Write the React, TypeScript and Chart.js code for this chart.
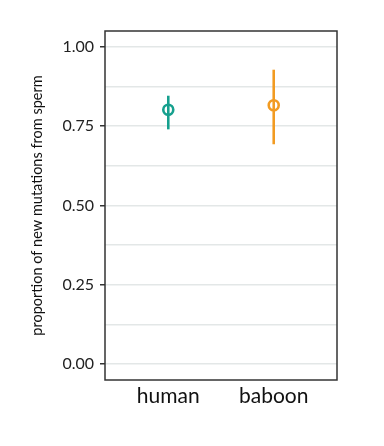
import React, { useEffect, useRef } from "react";
import { Chart, registerables } from "chart.js";

Chart.register(...registerables);

const categories = ["human", "baboon"];
const estimates = [0.802, 0.816];
const lower = [0.740, 0.693];
const upper = [0.846, 0.928];
const colors = ["#16a08e", "#f29b22"];
const yTickValues = [0, 0.25, 0.5, 0.75, 1.0];
const yGridValues = [0, 0.125, 0.25, 0.375, 0.5, 0.625, 0.75, 0.875, 1.0];

const boxPlugin = {
  id: "box",
  afterDraw(chart: any) {
    const { ctx, chartArea } = chart;
    ctx.save();
    ctx.strokeStyle = "#333333";
    ctx.lineWidth = 1.5;
    ctx.strokeRect(chartArea.left, chartArea.top, chartArea.right - chartArea.left, chartArea.bottom - chartArea.top);
    ctx.restore();
  },
};

export default function App() {
  const ref = useRef<HTMLCanvasElement>(null);
  useEffect(() => {
    if (!ref.current) return;
    const datasets: any[] = [];
    categories.forEach((c, i) => {
      datasets.push({
        type: "line",
        data: [
          { x: i + 1, y: lower[i] },
          { x: i + 1, y: upper[i] },
        ],
        borderColor: colors[i],
        borderWidth: 2.6,
        pointRadius: 0,
        showLine: true,
      });
    });
    categories.forEach((c, i) => {
      datasets.push({
        type: "scatter",
        data: [{ x: i + 1, y: estimates[i] }],
        backgroundColor: "#ffffff",
        borderColor: colors[i],
        pointRadius: 5,
        pointBorderWidth: 2.6,
      });
    });
    const chart = new Chart(ref.current, {
      type: "scatter",
      data: { datasets },
      plugins: [boxPlugin],
      options: {
        animation: false,
        responsive: false,
        maintainAspectRatio: false,
        layout: { padding: { left: 0, top: 31, right: 47, bottom: 0 } },
        plugins: { legend: { display: false }, tooltip: { enabled: false } },
        scales: {
          x: {
            type: "linear",
            min: 0.4,
            max: 2.6,
            afterBuildTicks: (s: any) => {
              s.ticks = categories.map((_, i) => ({ value: i + 1 }));
            },
            afterFit: (s: any) => {
              s.height = 66;
            },
            ticks: {
              callback: (v: any) => categories[Math.round(v) - 1] ?? "",
              font: { family: "Lato", size: 21 },
              color: "#111111",
              padding: 4,
              maxRotation: 0,
            },
            grid: { display: false, drawTicks: false },
            border: { display: false },
          },
          y: {
            type: "linear",
            min: -0.05,
            max: 1.05,
            afterBuildTicks: (s: any) => {
              s.ticks = yGridValues.map((v) => ({ value: v }));
            },
            afterFit: (s: any) => {
              s.width = 105;
            },
            ticks: {
              callback: (v: any) => {
                const n = Number(v);
                return yTickValues.some((t) => Math.abs(t - n) < 1e-6) ? n.toFixed(2) : "";
              },
              font: { family: "Lato", size: 16 },
              color: "#222222",
              padding: 6,
            },
            grid: {
              color: "#e3e7e7",
              lineWidth: 1.5,
              tickLength: 5,
              tickColor: (ctx: any) => {
                const n = ctx.tick ? ctx.tick.value : 0;
                return yTickValues.some((t) => Math.abs(t - n) < 1e-6) ? "#333333" : "rgba(0,0,0,0)";
              },
              tickWidth: 1.5,
            },
            border: { display: false },
            title: {
              display: true,
              text: "proportion of new mutations from sperm",
              font: { family: "Lato", size: 14.5 },
              color: "#111111",
              padding: { top: 29, bottom: 0 },
            },
          },
        },
      },
    });
    return () => chart.destroy();
  }, []);
  return (
    <div style={{ position: "absolute", left: 0, top: 0, width: 384, height: 446, background: "#ffffff" }}>
      <canvas ref={ref} width={384} height={446} style={{ width: 384, height: 446 }} />
    </div>
  );
}
